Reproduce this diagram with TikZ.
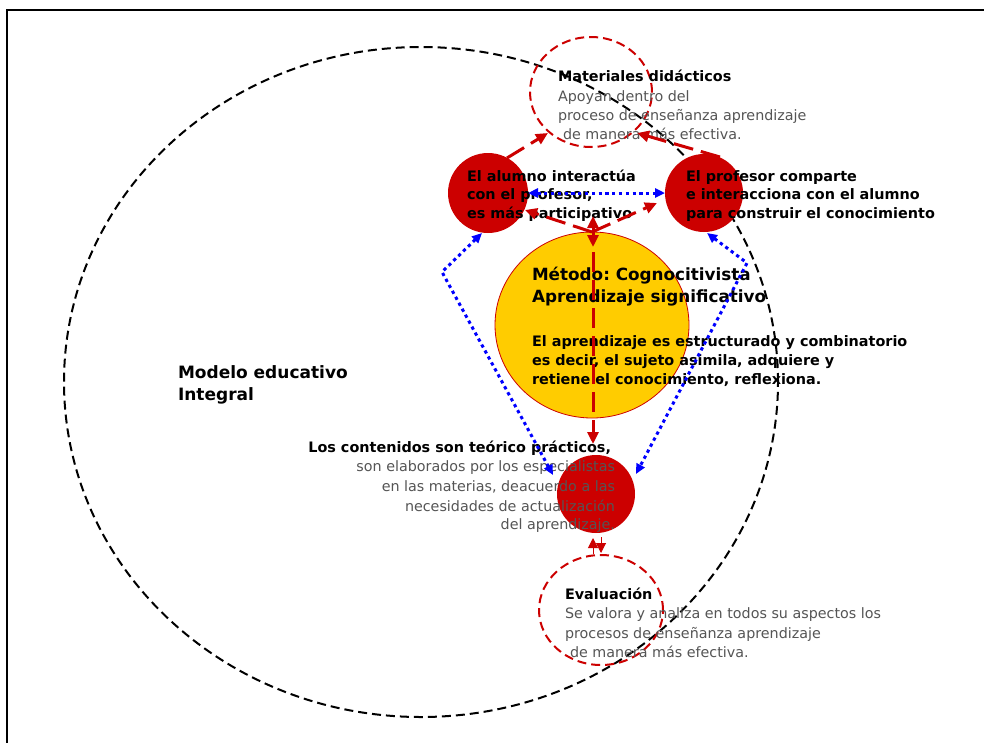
\documentclass[tikz,border=0pt]{standalone}
\usepackage{fontspec}
\setmainfont{DejaVu Sans}
\usetikzlibrary{shapes.geometric,arrows.meta}
\definecolor{dred}{HTML}{CC0000}
\definecolor{dyel}{HTML}{FFCC00}
\definecolor{tgray}{HTML}{555555}
\definecolor{dblue}{HTML}{0000FF}
\frenchspacing
\begin{document}
\begin{tikzpicture}[x=1pt,y=-1pt,
  every node/.style={inner sep=0pt, outer sep=0pt},
  ring/.style={ellipse, draw=dred, line width=2pt, dash pattern=on 9pt off 5pt},
  disk/.style={circle, fill=dred},
  bt/.style={font=\fontsize{14.4}{18}\selectfont\bfseries, text=black},
  gt/.style={font=\fontsize{14.3}{18}\selectfont, text=tgray},
  ht/.style={font=\fontsize{16.8}{20}\selectfont\bfseries, text=black},
  mt/.style={font=\fontsize{17}{20}\selectfont\bfseries, text=black},
  rdash/.style={draw=dred, line width=3pt, dash pattern=on 20pt off 8pt, -{Triangle[length=12pt,width=11pt]}},
  rtip/.style={draw=dred, fill=dred, line width=1pt, -{Triangle[length=10pt,width=10pt]}},
  bdot/.style={draw=dblue, line width=3pt, dash pattern=on 3.3pt off 3.5pt, {Triangle[length=10pt,width=9pt]}-{Triangle[length=10pt,width=9pt]}},
]
\useasboundingbox (0,0) rectangle (984,742);
\clip (0,0) rectangle (984,742);
\fill[white] (0,0) rectangle (984,742);
% frame
\draw[line width=2pt] (7,800) -- (7,10) -- (1000,10);
% big dashed ellipse
\node[ellipse, draw=black, line width=2pt, dash pattern=on 9pt off 5pt, minimum width=714pt, minimum height=670pt] (modelo) at (421,382) {};
% dashed rings
\node[ring, minimum width=122pt, minimum height=110pt] (mat) at (591,92) {};
\node[ring, minimum width=124pt, minimum height=110pt] (eva) at (601,610) {};
% disks
\node[disk, minimum size=80pt] (alu) at (488,193) {};
\node[disk, minimum size=78pt] (pro) at (704,193) {};
\node[disk, minimum size=78pt] (con) at (596,494) {};
\node[ellipse, fill=dyel, draw=dred, line width=0.8pt, minimum width=194pt, minimum height=186pt] (met) at (592,325) {};
% texts
\node[bt, anchor=base west] (matT) at (558,81) {Materiales didácticos};
\node[gt, anchor=base west] (mat1) at (558,101) {Apoyan dentro del};
\node[gt, anchor=base west] (mat2) at (558,120) {proceso de enseñanza aprendizaje};
\node[gt, anchor=base west] (mat3) at (563,139) {de manera más efectiva.};
\node[bt, anchor=base west] (alu1) at (467,181) {El alumno interactúa};
\node[bt, anchor=base west] (alu2) at (467,199) {con el profesor,};
\node[bt, anchor=base west] (alu3) at (467,218) {es más participativo};
\node[bt, anchor=base west] (pro1) at (686,181) {El profesor comparte};
\node[bt, anchor=base west] (pro2) at (686,199) {e interacciona con el alumno};
\node[bt, anchor=base west] (pro3) at (686,218) {para construir el conocimiento};
\node[ht, anchor=base west] (met1) at (532,280) {Método: Cognocitivista};
\node[ht, anchor=base west] (met2) at (532,302) {Aprendizaje significativo};
\node[bt, anchor=base west] (met3) at (532,346) {El aprendizaje es estructurado y combinatorio};
\node[bt, anchor=base west] (met4) at (532,365) {es decir, el sujeto asimila, adquiere y};
\node[bt, anchor=base west] (met5) at (532,384) {retiene el conocimiento, reflexiona.};
\node[mt, anchor=base west] (mod1) at (178,378) {Modelo educativo};
\node[mt, anchor=base west] (mod2) at (178,400) {Integral};
\node[bt, anchor=base east] (con0) at (611,452) {Los contenidos son teórico prácticos,};
\node[gt, anchor=base east] (con1) at (615,471) {son elaborados por los especialistas};
\node[gt, anchor=base east] (con2) at (615,491) {en las materias, deacuerdo a las};
\node[gt, anchor=base east] (con3) at (615,511) {necesidades de actualización};
\node[gt, anchor=base east] (con4) at (615,529) {del aprendizaje.};
\node[bt, anchor=base west] (eva0) at (565,599) {Evaluación};
\node[gt, anchor=base west] (eva1) at (565,618) {Se valora y analiza en todos su aspectos los};
\node[gt, anchor=base west] (eva2) at (565,638) {procesos de enseñanza aprendizaje};
\node[gt, anchor=base west] (eva3) at (570,657) {de manera más efectiva.};
% connector end points
\coordinate (r1s) at (507,158);
\coordinate (r1e) at (548,133);
\coordinate (r2s) at (720,157);
\coordinate (r2e) at (637,133);
\coordinate (r3e) at (525,210);
\coordinate (r4e) at (657,203);
\coordinate (r5s) at (593,236);
\coordinate (r5e) at (593,216);
\coordinate (r6s) at (593,226);
\coordinate (r6e) at (593,247);
\coordinate (r7s) at (593,252);
\coordinate (r7e) at (593,444);
\coordinate (u1s) at (593,554);
\coordinate (u1e) at (593,538);
\coordinate (d1s) at (601,537);
\coordinate (d1e) at (601,553);
\coordinate (b1) at (482,233);
\coordinate (b2) at (442,272);
\coordinate (b3) at (553,475);
\coordinate (b4) at (707,233);
\coordinate (b5) at (747,263);
\coordinate (b6) at (636,474);
% red connectors
\draw[rdash] (r1s) -- (r1e);
\draw[rdash] (r2s) -- (r2e);
\draw[rdash] (met.north) -- (r3e);
\draw[rdash] (met.north) -- (r4e);
\draw[rdash] (r5s) -- (r5e);
\draw[rdash] (r6s) -- (r6e);
\draw[rdash] (r7s) -- (r7e);
\draw[rtip] (u1s) -- (u1e);
\draw[rtip] (d1s) -- (d1e);
% blue connectors
\draw[bdot] (alu.east) -- (pro.west);
\draw[bdot] (b1) -- (b2) -- (b3);
\draw[bdot] (b4) -- (b5) -- (b6);
\end{tikzpicture}
\end{document}
